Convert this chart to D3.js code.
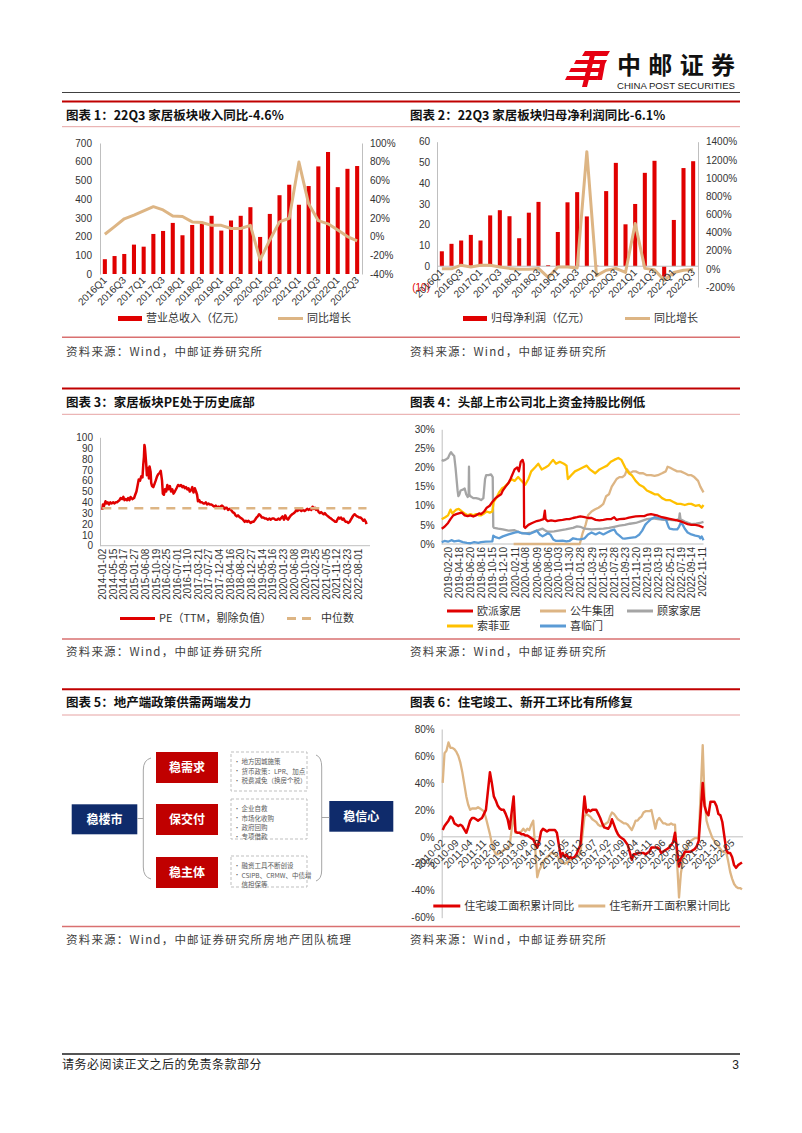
<!DOCTYPE html>
<html><head><meta charset="utf-8">
<script src="https://cdn.jsdelivr.net/npm/d3@7"></script>
<style>body{margin:0;background:#fff}svg{display:block}</style>
</head><body><svg id="page" width="802" height="1133"></svg>
<script>
// ---------------- DATA ----------------
const quarters = ["2016Q1","2016Q2","2016Q3","2016Q4","2017Q1","2017Q2","2017Q3","2017Q4","2018Q1","2018Q2","2018Q3","2018Q4","2019Q1","2019Q2","2019Q3","2019Q4","2020Q1","2020Q2","2020Q3","2020Q4","2021Q1","2021Q2","2021Q3","2021Q4","2022Q1","2022Q2","2022Q3"];
const quarterTicks = ["2016Q1","2016Q3","2017Q1","2017Q3","2018Q1","2018Q3","2019Q1","2019Q3","2020Q1","2020Q3","2021Q1","2021Q3","2022Q1","2022Q3"];
const revenue = [79,96,107,157,146,214,230,273,207,262,268,311,232,286,311,357,198,321,421,477,370,470,575,652,464,562,577];
const revenueYoY = [2.5,10.7,19,23,27.5,32,28.5,22,21.4,15.7,15,12,12,8.6,8.6,12,-25,-3.6,15.7,19.6,79.6,35,17,13.6,7,0,-4.6];
const revTicksL = [0,100,200,300,400,500,600,700];
const revTicksR = [-40,-20,0,20,40,60,80,100];

const netProfit = [7.2,10.8,12.4,15.1,12.4,24.5,27,24.1,13.5,25.8,31,0.5,16.5,30.8,35.7,24,0.3,36.2,49.8,20.2,30,45,50.8,-5,22.3,47.3,50.6];
const netProfitYoY = [0,0,40,20,40,40,20,5,-5,-5,5,-95,20,20,10,1290,-75,-15,5,-40,500,5,-10,-125,-40,-15,-6.1];
const npTicksL = [-10,0,10,20,30,40,50,60];
const npTicksR = [-200,0,200,400,600,800,1000,1200,1400];

const peSeries = [["2014-01-02",33],["2014-01-10",38],["2014-01-20",36],["2014-02-10",41],["2014-02-25",39],["2014-03-10",40],["2014-03-25",38],["2014-04-10",40],["2014-04-25",39],["2014-05-15",40],["2014-06-01",39],["2014-06-15",40],["2014-07-01",40],["2014-07-15",41],["2014-08-01",42],["2014-08-15",44],["2014-09-01",43],["2014-09-17",45],["2014-10-01",42],["2014-10-15",43],["2014-11-01",42],["2014-11-15",44],["2014-12-01",42],["2014-12-15",45],["2015-01-05",43],["2015-01-27",44],["2015-02-10",47],["2015-02-25",50],["2015-03-10",55],["2015-03-25",61],["2015-04-10",60],["2015-04-25",64],["2015-05-10",63],["2015-05-20",75],["2015-05-28",82],["2015-06-03",93],["2015-06-08",91],["2015-06-15",85],["2015-06-25",75],["2015-07-03",65],["2015-07-10",72],["2015-07-20",70],["2015-07-28",62],["2015-08-05",73],["2015-08-18",68],["2015-08-25",58],["2015-09-05",55],["2015-09-20",54],["2015-10-05",57],["2015-10-19",60],["2015-11-05",64],["2015-11-20",66],["2015-12-05",67],["2015-12-20",69],["2016-01-05",60],["2016-01-15",48],["2016-01-28",47],["2016-02-10",52],["2016-02-25",50],["2016-03-10",56],["2016-03-25",52],["2016-04-10",55],["2016-04-25",50],["2016-05-10",52],["2016-05-25",48],["2016-06-10",50],["2016-07-01",53],["2016-07-20",56],["2016-08-10",55],["2016-08-25",56],["2016-09-10",54],["2016-09-25",55],["2016-10-10",53],["2016-10-25",54],["2016-11-10",52],["2016-11-25",53],["2016-12-10",50],["2016-12-25",51],["2017-01-10",54],["2017-01-25",49],["2017-02-10",53],["2017-02-25",50],["2017-03-10",47],["2017-03-21",41],["2017-04-05",42],["2017-04-20",40],["2017-05-10",40],["2017-05-25",39],["2017-06-10",39],["2017-06-25",40],["2017-07-10",38],["2017-07-27",39],["2017-08-15",38],["2017-09-01",38],["2017-09-20",37],["2017-10-10",36],["2017-10-25",37],["2017-11-10",35],["2017-11-25",36],["2017-12-04",35],["2017-12-20",36],["2018-01-10",37],["2018-01-25",36],["2018-02-10",34],["2018-02-25",35],["2018-03-10",35],["2018-03-25",33],["2018-04-16",34],["2018-05-01",33],["2018-05-20",31],["2018-06-10",30],["2018-06-25",28],["2018-07-10",27],["2018-07-25",28],["2018-08-20",26],["2018-09-10",25],["2018-09-25",24],["2018-10-15",22],["2018-10-30",23],["2018-11-15",22],["2018-12-01",23],["2018-12-27",21],["2019-01-15",22],["2019-02-01",22],["2019-02-20",24],["2019-03-10",26],["2019-03-25",27],["2019-04-10",29],["2019-04-25",28],["2019-05-14",26],["2019-06-01",26],["2019-06-20",25],["2019-07-10",25],["2019-07-25",24],["2019-08-15",25],["2019-09-01",24],["2019-09-16",25],["2019-10-10",25],["2019-10-25",24],["2019-11-15",24],["2019-12-05",25],["2019-12-20",24],["2020-01-10",26],["2020-01-23",27],["2020-02-10",24],["2020-02-25",28],["2020-03-15",25],["2020-03-30",24],["2020-04-15",26],["2020-05-05",28],["2020-05-20",29],["2020-06-08",30],["2020-06-25",31],["2020-07-10",33],["2020-07-25",32],["2020-08-10",34],["2020-08-25",33],["2020-09-10",32],["2020-09-25",33],["2020-10-19",32],["2020-11-05",33],["2020-11-20",34],["2020-12-10",33],["2020-12-25",34],["2021-01-10",33],["2021-01-25",36],["2021-02-10",34],["2021-02-25",35],["2021-03-10",33],["2021-03-25",34],["2021-04-10",31],["2021-04-25",30],["2021-05-10",31],["2021-05-25",30],["2021-06-10",29],["2021-06-25",30],["2021-07-05",29],["2021-07-20",28],["2021-08-05",27],["2021-08-20",26],["2021-09-10",25],["2021-09-25",24],["2021-10-15",23],["2021-10-30",22],["2021-11-12",22],["2021-11-25",24],["2021-12-10",26],["2021-12-25",25],["2022-01-10",26],["2022-01-25",24],["2022-02-10",25],["2022-02-25",23],["2022-03-10",22],["2022-03-23",22],["2022-04-10",21],["2022-04-25",22],["2022-05-10",24],["2022-05-25",26],["2022-06-10",28],["2022-06-25",29],["2022-07-10",28],["2022-07-25",27],["2022-08-01",27],["2022-08-20",26],["2022-09-05",26],["2022-09-20",25],["2022-10-10",23],["2022-10-25",24],["2022-11-10",22],["2022-11-18",20]];
const peMedian = 34.5;
const peTicksY = [0,10,20,30,40,50,60,70,80,90,100];
const peTicksX = ["2014-01-02","2014-05-15","2014-09-17","2015-01-27","2015-06-08","2015-10-19","2016-02-25","2016-07-01","2016-11-10","2017-03-21","2017-07-27","2017-12-04","2018-04-16","2018-08-20","2018-12-27","2019-05-14","2019-09-16","2020-01-23","2020-06-08","2020-10-19","2021-02-25","2021-07-05","2021-11-12","2022-03-23","2022-08-01"];

const oppein = [["2019-01-17",4],["2019-02-01",4.5],["2019-02-20",5.5],["2019-03-05",6.5],["2019-03-20",7.5],["2019-04-05",7.8],["2019-04-18",8],["2019-05-05",8.2],["2019-05-20",7.5],["2019-06-05",7.3],["2019-06-20",7.5],["2019-07-05",7.2],["2019-07-20",7.5],["2019-08-05",8],["2019-08-16",7.8],["2019-09-01",8.5],["2019-09-15",9.5],["2019-10-01",10],["2019-10-15",11],["2019-11-01",12],["2019-11-15",12.5],["2019-12-01",13],["2019-12-10",14],["2019-12-25",15],["2020-01-10",16],["2020-01-20",17],["2020-02-11",19.5],["2020-02-25",20],["2020-03-05",19],["2020-03-15",21.5],["2020-03-25",22],["2020-03-31",21],["2020-04-02",4.5],["2020-04-08",4.2],["2020-04-25",5],["2020-05-15",5.5],["2020-06-09",6],["2020-06-25",6.2],["2020-07-15",6.5],["2020-07-22",8.7],["2020-07-26",6.5],["2020-08-06",6],["2020-08-25",6.2],["2020-09-15",6],["2020-10-03",6.2],["2020-10-25",6.3],["2020-11-15",6.5],["2020-11-30",6.5],["2020-12-20",6.8],["2021-01-10",7],["2021-01-28",7.2],["2021-02-20",7],["2021-03-10",6.8],["2021-03-29",6.8],["2021-04-20",6.3],["2021-05-10",6.2],["2021-05-31",6.3],["2021-06-20",6.5],["2021-07-10",6.5],["2021-07-28",7],["2021-08-10",6.3],["2021-08-25",6.5],["2021-09-23",6.6],["2021-10-15",6.9],["2021-11-05",7.1],["2021-11-20",7.2],["2021-12-15",7.3],["2022-01-05",7.3],["2022-01-19",7.6],["2022-02-10",7.8],["2022-03-01",7.6],["2022-03-19",7.4],["2022-04-10",7],["2022-04-30",6.8],["2022-05-21",6.6],["2022-06-10",6.4],["2022-06-30",6.2],["2022-07-19",5.9],["2022-08-10",5.5],["2022-08-25",5.2],["2022-09-14",5],["2022-10-05",5],["2022-10-25",4.8],["2022-11-18",4.3]];
const gongniu = [["2020-02-06",0],["2021-01-25",0],["2021-02-10",3],["2021-02-25",5],["2021-03-10",7.5],["2021-03-29",8.5],["2021-04-15",9],["2021-05-05",9.5],["2021-05-20",10],["2021-05-31",10.5],["2021-06-15",12.5],["2021-06-30",13],["2021-07-15",15],["2021-07-28",16],["2021-08-10",17],["2021-08-25",17.5],["2021-09-10",17.5],["2021-09-23",18],["2021-10-05",19.5],["2021-10-20",18.5],["2021-11-05",19],["2021-11-20",19],["2021-12-10",18.5],["2021-12-30",18.5],["2022-01-19",18],["2022-02-10",18],["2022-03-01",17.8],["2022-03-19",18],["2022-04-10",18.5],["2022-04-30",19],["2022-05-10",20.2],["2022-05-21",20],["2022-06-10",19.5],["2022-06-30",19],["2022-07-19",19],["2022-08-10",18.5],["2022-08-30",18],["2022-09-14",18],["2022-09-30",17.5],["2022-10-20",16.5],["2022-11-01",15],["2022-11-18",13.5]];
const kuka = [["2019-01-17",22],["2019-01-25",21.8],["2019-02-05",22],["2019-02-20",22.5],["2019-03-01",23.5],["2019-03-08",24],["2019-03-15",23.5],["2019-03-25",23],["2019-04-01",20],["2019-04-12",14],["2019-04-16",12.5],["2019-04-22",13],["2019-04-28",14],["2019-05-10",14.2],["2019-05-20",14.5],["2019-05-28",13],["2019-06-05",12.3],["2019-06-10",12.5],["2019-06-12",20.2],["2019-06-14",13],["2019-06-20",12.5],["2019-07-05",12],["2019-07-20",12],["2019-08-05",11.8],["2019-08-16",11.5],["2019-08-28",12],["2019-09-06",17],["2019-09-12",18],["2019-09-25",18],["2019-10-08",18.2],["2019-10-17",17.5],["2019-10-20",4.5],["2019-10-25",4.2],["2019-11-15",4],["2019-12-10",3.8],["2020-01-10",3.5],["2020-02-11",3.6],["2020-03-10",3],["2020-04-08",2.8],["2020-05-10",3],["2020-06-09",3.5],["2020-07-10",4],["2020-07-25",3.5],["2020-08-06",3.2],["2020-09-10",3.3],["2020-10-03",3.5],["2020-11-10",3.8],["2020-11-30",4],["2020-12-20",4.2],["2021-01-10",4.6],["2021-01-28",4.5],["2021-02-20",4],["2021-03-29",3.8],["2021-04-20",3.9],["2021-05-31",4],["2021-06-30",4.2],["2021-07-28",4.5],["2021-08-25",4.8],["2021-09-23",5],["2021-10-20",5.3],["2021-11-20",5.5],["2021-12-20",6],["2022-01-19",6.5],["2022-02-20",6.7],["2022-03-19",6.5],["2022-04-20",6.3],["2022-05-21",6.3],["2022-06-20",6.2],["2022-07-10",6.5],["2022-07-14",8],["2022-07-18",6.5],["2022-08-10",5.9],["2022-09-14",5.2],["2022-10-10",5.3],["2022-10-30",5.5],["2022-11-18",5.8]];
const sofia = [["2019-01-17",6.5],["2019-02-05",7],["2019-02-20",7.5],["2019-03-05",9],["2019-03-15",8],["2019-03-25",8.5],["2019-04-05",9],["2019-04-18",9.2],["2019-05-05",8.5],["2019-05-20",8],["2019-06-05",7.5],["2019-06-20",7.8],["2019-07-05",7.5],["2019-07-20",7.8],["2019-08-05",7.5],["2019-08-16",7.5],["2019-09-01",8],["2019-09-15",8.5],["2019-10-01",8.2],["2019-10-15",8.5],["2019-10-22",11],["2019-11-05",12],["2019-11-20",13.5],["2019-12-05",14.5],["2019-12-20",15],["2020-01-10",16],["2020-01-25",17],["2020-02-11",16.5],["2020-03-01",17.5],["2020-03-20",16.5],["2020-04-08",15.5],["2020-04-25",17],["2020-05-10",19],["2020-05-30",20],["2020-06-17",21],["2020-07-05",19.5],["2020-07-25",20],["2020-08-10",20.5],["2020-09-04",22],["2020-09-20",21],["2020-10-10",21.5],["2020-11-01",21],["2020-11-15",20.5],["2020-11-22",17],["2020-12-10",18],["2020-12-30",19],["2021-01-20",19.5],["2021-02-10",20],["2021-03-03",20.5],["2021-03-20",19.5],["2021-04-17",18.5],["2021-05-10",19.5],["2021-05-31",20],["2021-06-20",20.5],["2021-07-10",21.5],["2021-07-28",22],["2021-08-19",22.5],["2021-09-05",22],["2021-09-25",20],["2021-10-15",18.5],["2021-10-30",18],["2021-11-20",16.5],["2021-12-10",15.5],["2021-12-30",15],["2022-01-19",14],["2022-02-10",13.5],["2022-03-01",13],["2022-03-19",13],["2022-04-10",12],["2022-04-30",11.5],["2022-05-21",11.5],["2022-06-10",11],["2022-06-30",10.5],["2022-07-19",10.5],["2022-08-10",10.2],["2022-08-30",10.5],["2022-09-14",10.5],["2022-10-05",10],["2022-10-25",10.2],["2022-11-08",9.5],["2022-11-18",10.2]];
const xilinmen = [["2019-01-17",0.5],["2019-02-01",0.8],["2019-02-20",0.6],["2019-03-10",1],["2019-03-25",0.7],["2019-04-18",0.9],["2019-05-10",0.5],["2019-06-01",0.3],["2019-06-20",0.2],["2019-07-10",0.5],["2019-08-01",0.3],["2019-08-16",0.5],["2019-09-10",0.6],["2019-10-15",0.7],["2019-10-20",2.2],["2019-11-01",1.8],["2019-11-20",1.5],["2019-12-10",2],["2020-01-10",2.5],["2020-02-11",3],["2020-03-01",3.2],["2020-03-20",2.8],["2020-04-08",2.8],["2020-05-01",2.6],["2020-05-20",3],["2020-06-09",3.5],["2020-06-25",2.5],["2020-07-10",2],["2020-07-25",2.4],["2020-08-06",2.8],["2020-08-20",2.5],["2020-09-05",1.2],["2020-09-20",0.8],["2020-10-03",0.8],["2020-10-25",0.9],["2020-11-15",0.7],["2020-11-30",0.8],["2020-12-20",1.5],["2021-01-10",1.3],["2021-01-28",1.2],["2021-02-20",1.5],["2021-03-10",2.5],["2021-03-29",3],["2021-04-20",2.5],["2021-05-10",3],["2021-05-31",2.5],["2021-06-20",3],["2021-07-10",3.5],["2021-07-28",3.8],["2021-08-10",2.8],["2021-08-25",2.2],["2021-09-10",1.5],["2021-09-23",1.4],["2021-10-20",1.6],["2021-11-20",1.8],["2021-12-10",2.5],["2021-12-25",3.5],["2022-01-10",5],["2022-01-19",5.5],["2022-02-10",6.5],["2022-03-01",7],["2022-03-19",6.8],["2022-04-10",6.5],["2022-04-30",6.5],["2022-05-15",4.5],["2022-05-21",4],["2022-06-10",3.8],["2022-06-30",3.8],["2022-07-10",4.5],["2022-07-19",5.5],["2022-07-30",5],["2022-08-10",4],["2022-08-25",3],["2022-09-14",2.5],["2022-10-05",2.2],["2022-10-25",2],["2022-11-01",1.5],["2022-11-08",2],["2022-11-18",1]];
const holdTicksY = [0,5,10,15,20,25,30];
const holdTicksX = ["2019-02-20","2019-04-18","2019-06-20","2019-08-16","2019-10-15","2019-12-10","2020-02-11","2020-04-08","2020-06-09","2020-08-06","2020-10-03","2020-11-30","2021-01-28","2021-03-29","2021-05-31","2021-07-28","2021-09-23","2021-11-20","2022-01-19","2022-03-19","2022-05-21","2022-07-19","2022-09-14","2022-11-11"];

// Chart 6: monthly (Jan merged into Feb), Feb..Dec each year, 2022 to Oct
const completionYoY = [
  5,8,10,12,15,14,10,9,8,9,8,          // 2010
  3,7,12,14,14,13,12,13,14,17,20,      // 2011
  48,40,30,27,23,21,20,20,17,13,6,     // 2012
  30,4,3,3,2,2,1,1,0,-1,-2,            // 2013
  -8,-4,4,6,5,4,5,5,5,5,3,             // 2014
  -15,-12,-15,-13,-16,-15,-16,-15,-13,-9,-6, // 2015
  30,18,20,19,20,20,20,17,14,10,7,     // 2016
  6,8,13,9,5,2,0,-1,-2,-4,-6,          // 2017
  -17,-13,-13,-12,-12,-12,-12,-13,-12,-11,-8, // 2018
  -8,-8,-9,-12,-11,-10,-9,-8,-6,-4,3,  // 2019
  -22,-16,-14,-11,-11,-11,-11,-10,-9,-7,-3, // 2020
  40,23,18,16,26,26,26,23,17,16,11,    // 2021
  -10,-12,-12,-15,-21,-23,-21,-20,-19  // 2022
];
const newStartYoY = [
  40,62,64,70,66,66,65,63,60,55,48,    // 2010
  30,24,20,21,21,21,22,21,20,19,14,    // 2011
  2,-5,-10,-13,-13,-12,-11,-10,-9,-8,-7, // 2012
  18,3,3,3,4,6,4,6,5,9,12,             // 2013
  -30,-25,-22,-18,-17,-15,-14,-12,-12,-13,-14, // 2014
  -18,-19,-20,-19,-18,-17,-16,-15,-15,-14,-12, // 2015
  15,17,16,15,13,12,11,9,8,8,9,        // 2016
  11,15,18,17,15,13,12,11,10,10,9,     // 2017
  5,8,12,12,14,15,18,19,19,19,20,      // 2018
  6,12,14,12,10,10,9,9,10,9,9,         // 2019
  -45,-27,-18,-12,-7,-5,-3,-2,-1,-1,-1, // 2020
  68,28,12,7,3,-1,-3,-5,-7,-9,-11,     // 2021
  -12,-18,-26,-31,-35,-37,-38,-38,-39  // 2022
];
const houseTicksY = [-60,-40,-20,0,20,40,60,80];
const houseTicksX = ["2010-02","2010-09","2011-04","2011-11","2012-06","2013-01","2013-08","2014-03","2014-10","2015-05","2015-12","2016-07","2017-02","2017-09","2018-04","2018-11","2019-06","2020-01","2020-08","2021-03","2021-10","2022-05"];

// Diagram (chart 5)
const diagLeft = "稳楼市", diagRight = "稳信心";
const diagLabels = ["稳需求","保交付","稳主体"];
const diagNotes = [
  [["•","地方因城施策"],["•","货币政策：LPR、加点"],["•","税费减免（换房个税）"]],
  [["•","企业自救"],["•","市场化收购"],["•","政府回购"],["•","专项借款"]],
  [["•","融资工具不断创设"],["•","CSIPB、CRMW、中债增"],["","信担保等"]]
];

const titles = ["图表 1：22Q3 家居板块收入同比-4.6%","图表 2：22Q3 家居板块归母净利润同比-6.1%","图表 3：家居板块PE处于历史底部","图表 4：头部上市公司北上资金持股比例低","图表 5：地产端政策供需两端发力","图表 6：住宅竣工、新开工环比有所修复"];
const sources = ["资料来源：Wind，中邮证券研究所","资料来源：Wind，中邮证券研究所","资料来源：Wind，中邮证券研究所","资料来源：Wind，中邮证券研究所","资料来源：Wind，中邮证券研究所房地产团队梳理","资料来源：Wind，中邮证券研究所"];

// ---------------- DRAW ----------------
const CJK = '"Noto Sans CJK SC","Noto Sans",sans-serif';
const LAT = '"Liberation Sans",Arial,"Noto Sans CJK SC",sans-serif';
const RED = "#E00000", TAN = "#DDB584", AXC = "#BFBFBF", TXT = "#333";
const parse = d3.timeParse("%Y-%m-%d");
const parseM = d3.timeParse("%Y-%m");
const svg = d3.select("#page");
svg.append("rect").attr("width",802).attr("height",1133).attr("fill","#fff");

// Header logo
const logo = svg.append("g").attr("fill","#E60012");
logo.append("path").attr("d","M585,51h25l-3,5h-25z");
logo.append("path").attr("d","M576,60h31l-2,4h-31z");
logo.append("path").attr("d","M571,68h32l-2,4h-32z");
logo.append("path").attr("d","M567,76h32l-2,4h-32z");
logo.append("path").attr("d","M591,51h5l-9,36h-5z");
logo.append("path").attr("d","M600,64h5l-3,16h-5z");
svg.append("text").attr("x",617).attr("y",74).text("中邮证券").attr("font-family",CJK).attr("font-weight",700).attr("font-size",24).attr("textLength",118).attr("fill","#111");
svg.append("text").attr("x",617).attr("y",88.5).text("CHINA POST SECURITIES").attr("font-family",LAT).attr("font-size",9.5).attr("textLength",118).attr("lengthAdjust","spacingAndGlyphs").attr("fill","#222");
svg.append("line").attr("x1",62).attr("x2",740).attr("y1",92.5).attr("y2",92.5).attr("stroke","#404040").attr("stroke-width",1);

// Section frames
const sections = [{top:101.5,thin:126.7,bottom:337.3,title:120,src:356},
                  {top:388.5,thin:414.3,bottom:639,title:406.5,src:656},
                  {top:689.3,thin:715,bottom:926.5,title:707,src:943.5}];
sections.forEach((s,i)=>{
  svg.append("line").attr("x1",62).attr("x2",740).attr("y1",s.top).attr("y2",s.top).attr("stroke","#C00000").attr("stroke-width",2);
  svg.append("line").attr("x1",62).attr("x2",740).attr("y1",s.thin).attr("y2",s.thin).attr("stroke","#E6A3A3").attr("stroke-width",1);
  svg.append("line").attr("x1",62).attr("x2",740).attr("y1",s.bottom).attr("y2",s.bottom).attr("stroke","#D97070").attr("stroke-width",1.5);
  [66,410].forEach((x,j)=>{
    svg.append("text").attr("x",x).attr("y",s.title).text(titles[i*2+j]).attr("font-family",CJK).attr("font-weight",700).attr("font-size",12.5).attr("fill","#111");
    svg.append("text").attr("x",x).attr("y",s.src).text(sources[i*2+j]).attr("font-family",CJK).attr("font-size",11.5).attr("letter-spacing",1.2).attr("fill","#404040");
  });
});

// Footer
svg.append("line").attr("x1",62).attr("x2",740).attr("y1",1054).attr("y2",1054).attr("stroke","#555").attr("stroke-width",2);
svg.append("text").attr("x",62).attr("y",1069).text("请务必阅读正文之后的免责条款部分").attr("font-family",CJK).attr("font-size",12).attr("letter-spacing",0.5).attr("fill","#222");
svg.append("text").attr("x",739).attr("y",1069).attr("text-anchor","end").text("3").attr("font-family",LAT).attr("font-size",12).attr("fill","#222");

// helpers
function styleAxis(a, lineColor){
  a.attr("font-family",LAT).attr("font-size",10);
  a.select(".domain").attr("stroke", lineColor || "none");
  a.selectAll(".tick line").attr("stroke",AXC);
  a.selectAll("text").attr("fill",TXT);
  return a;
}
function legend(g, x, y, type, color, label, w){
  w = w || 25;
  if (type==="bar") g.append("rect").attr("x",x).attr("y",y-2.5).attr("width",w).attr("height",5).attr("fill",color);
  else g.append("line").attr("x1",x).attr("x2",x+w).attr("y1",y).attr("y2",y).attr("stroke",color).attr("stroke-width",3)
        .attr("stroke-dasharray", type==="dash" ? "9,6" : null);
  g.append("text").attr("x",x+w+4).attr("y",y).attr("dy","0.36em").text(label).attr("font-family",CJK).attr("font-size",11).attr("fill",TXT);
}

// Chart 1
(function(){
  const g = svg.append("g");
  const x = d3.scaleBand().domain(quarters).range([100,362]).paddingInner(0.58).paddingOuter(0.29);
  const yL = d3.scaleLinear().domain([0,700]).range([274,143]);
  const yR = d3.scaleLinear().domain([-40,100]).range([274,143]);
  styleAxis(g.append("g").attr("transform","translate(100,0)").call(d3.axisLeft(yL).tickValues(revTicksL).tickSize(0).tickSizeOuter(0).tickPadding(8)), AXC);
  styleAxis(g.append("g").attr("transform","translate(362,0)").call(d3.axisRight(yR).tickValues(revTicksR).tickFormat(d=>d+"%").tickSize(0).tickSizeOuter(0).tickPadding(8)), AXC);
  g.selectAll("rect.bar").data(revenue).join("rect").attr("class","bar")
    .attr("x",(d,i)=>x(quarters[i])).attr("width",x.bandwidth())
    .attr("y",d=>yL(Math.max(0,d))).attr("height",d=>Math.abs(yL(d)-yL(0))).attr("fill",RED);
  g.append("path").datum(revenueYoY).attr("fill","none").attr("stroke",TAN).attr("stroke-width",3).attr("stroke-linejoin","round")
    .attr("d",d3.line().x((d,i)=>x(quarters[i])+x.bandwidth()/2).y(d=>yR(d)));
  const xa = styleAxis(g.append("g").attr("transform","translate(0,274)").call(d3.axisBottom(x).tickValues(quarterTicks).tickSize(0).tickSizeOuter(0)));
  xa.selectAll("text").attr("x",-3).attr("y",3).attr("dy","0.35em").attr("text-anchor","end").attr("transform","rotate(-45)");
  legend(g,118,318.5,"bar",RED,"营业总收入（亿元）",24);
  legend(g,278,318.5,"line",TAN,"同比增长",25);
})();

// Chart 2
(function(){
  const g = svg.append("g");
  const x = d3.scaleBand().domain(quarters).range([437,698]).paddingInner(0.58).paddingOuter(0.29);
  const yL = d3.scaleLinear().domain([-10,60]).range([287,141.7]);
  const yR = d3.scaleLinear().domain([-200,1400]).range([287,141.7]);
  const la = styleAxis(g.append("g").attr("transform","translate(437,0)").call(d3.axisLeft(yL).tickValues(npTicksL).tickFormat(d=>d<0?"("+(-d)+")":d).tickSize(0).tickSizeOuter(0).tickPadding(7)), AXC);
  la.selectAll("text").attr("fill",d=>d<0?"#E00000":TXT);
  styleAxis(g.append("g").attr("transform","translate(698,0)").call(d3.axisRight(yR).tickValues(npTicksR).tickFormat(d=>d+"%").tickSize(0).tickSizeOuter(0).tickPadding(8)), AXC);
  g.selectAll("rect.bar").data(netProfit).join("rect").attr("class","bar")
    .attr("x",(d,i)=>x(quarters[i])).attr("width",x.bandwidth())
    .attr("y",d=>yL(Math.max(0,d))).attr("height",d=>Math.abs(yL(d)-yL(0))).attr("fill",RED);
  g.append("line").attr("x1",437).attr("x2",698).attr("y1",yL(0)).attr("y2",yL(0)).attr("stroke",AXC);
  g.append("path").datum(netProfitYoY).attr("fill","none").attr("stroke",TAN).attr("stroke-width",3).attr("stroke-linejoin","round")
    .attr("d",d3.line().x((d,i)=>x(quarters[i])+x.bandwidth()/2).y(d=>yR(d)));
  const xa = styleAxis(g.append("g").attr("transform",`translate(0,${yL(0)})`).call(d3.axisBottom(x).tickValues(quarterTicks).tickSize(0).tickSizeOuter(0)));
  xa.selectAll("text").attr("x",-3).attr("y",3).attr("dy","0.35em").attr("text-anchor","end").attr("transform","rotate(-45)");
  legend(g,463,318.5,"bar",RED,"归母净利润（亿元）",24);
  legend(g,625,318.5,"line",TAN,"同比增长",25);
})();

// Chart 3
(function(){
  const g = svg.append("g");
  const data = peSeries.map(d=>[parse(d[0]),d[1]]);
  const x = d3.scaleTime().domain([parse("2014-01-02"),parse("2022-11-18")]).range([102.3,366.5]);
  const y = d3.scaleLinear().domain([0,100]).range([545.7,437.3]);
  styleAxis(g.append("g").attr("transform","translate(100,0)").call(d3.axisLeft(y).tickValues(peTicksY).tickSize(0).tickSizeOuter(0).tickPadding(7)), AXC);
  const xa = styleAxis(g.append("g").attr("transform","translate(0,545.7)").call(d3.axisBottom(x).tickValues(peTicksX.map(parse)).tickFormat(d3.timeFormat("%Y-%m-%d")).tickSize(0).tickSizeOuter(0)));
  xa.select(".domain").remove();
  g.append("line").attr("x1",100).attr("x2",370).attr("y1",545.7).attr("y2",545.7).attr("stroke",AXC);
  xa.selectAll("text").attr("x",-3).attr("y",0).attr("dy","0.35em").attr("text-anchor","end").attr("transform","rotate(-90)");
  g.append("path").datum(data).attr("fill","none").attr("stroke",RED).attr("stroke-width",2.5).attr("stroke-linejoin","round")
    .attr("d",d3.line().x(d=>x(d[0])).y(d=>y(d[1])));
  g.append("line").attr("x1",x(data[0][0])).attr("x2",x(data[data.length-1][0])).attr("y1",y(peMedian)).attr("y2",y(peMedian))
    .attr("stroke",TAN).attr("stroke-width",2.5).attr("stroke-dasharray","9,7");
  legend(g,120,618.5,"line",RED,"PE（TTM，剔除负值）",35);
  legend(g,287,618.5,"dash",TAN,"中位数",30);
})();

// Chart 4
(function(){
  const g = svg.append("g");
  const x = d3.scaleTime().domain([parse("2019-01-17"),parse("2022-11-18")]).range([441.7,703.5]);
  const y = d3.scaleLinear().domain([0,30]).range([544,429.3]);
  styleAxis(g.append("g").attr("transform","translate(441.7,0)").call(d3.axisLeft(y).tickValues(holdTicksY).tickFormat(d=>d+"%").tickSize(0).tickSizeOuter(0).tickPadding(7)), AXC);
  const xa = styleAxis(g.append("g").attr("transform","translate(0,544)").call(d3.axisBottom(x).tickValues(holdTicksX.map(parse)).tickFormat(d3.timeFormat("%Y-%m-%d")).tickSize(0).tickSizeOuter(0)));
  xa.select(".domain").remove();
  g.append("line").attr("x1",441.7).attr("x2",703.5).attr("y1",544).attr("y2",544).attr("stroke",AXC);
  xa.selectAll("text").attr("x",-3).attr("y",0).attr("dy","0.35em").attr("text-anchor","end").attr("transform","rotate(-90)");
  const line = d3.line().x(d=>x(parse(d[0]))).y(d=>y(d[1]));
  const series = [[gongniu,TAN],[kuka,"#A5A5A5"],[xilinmen,"#5B9BD5"],[sofia,"#FFC000"],[oppein,RED]];
  series.forEach(([s,c])=>g.append("path").datum(s).attr("fill","none").attr("stroke",c).attr("stroke-width",2.3).attr("stroke-linejoin","round").attr("d",line));
  legend(g,447,611,"line",RED,"欧派家居",26);
  legend(g,540,611,"line",TAN,"公牛集团",26);
  legend(g,627,611,"line","#A5A5A5","顾家家居",26);
  legend(g,447,626,"line","#FFC000","索菲亚",26);
  legend(g,540,626,"line","#5B9BD5","喜临门",26);
})();

// Chart 5 (diagram)
(function(){
  const g = svg.append("g");
  const NAVY = "#0F2B6B", BOXRED = "#C00000";
  const boxText = (x,y,w,h,t)=>g.append("text").attr("x",x+w/2).attr("y",y+h/2).attr("dy","0.36em").attr("text-anchor","middle").text(t)
      .attr("font-family",CJK).attr("font-weight",700).attr("font-size",12).attr("fill","#fff");
  g.append("rect").attr("x",71.7).attr("y",804.3).attr("width",65.6).attr("height",30).attr("fill",NAVY);
  boxText(71.7,804.3,65.6,30,diagLeft);
  g.append("rect").attr("x",329.3).attr("y",801).attr("width",64).attr("height",30.7).attr("fill",NAVY);
  boxText(329.3,801,64,30.7,diagRight);
  g.append("line").attr("x1",137.3).attr("x2",143.3).attr("y1",818.5).attr("y2",818.5).attr("stroke","#A6A6A6");
  g.append("line").attr("x1",321.7).attr("x2",329.3).attr("y1",817.5).attr("y2",817.5).attr("stroke","#A6A6A6");
  g.append("path").attr("d","M151,758 Q143.3,760 143.3,770 V867 Q143.3,877 151,879").attr("fill","none").attr("stroke","#A6A6A6");
  g.append("path").attr("d","M316,755 Q321.7,757 321.7,767 V870 Q321.7,879 316,881").attr("fill","none").attr("stroke","#A6A6A6");
  const redY = [752,804,857];
  const noteBox = [[752,39],[799,40],[856,31]];
  diagLabels.forEach((t,i)=>{
    g.append("rect").attr("x",156).attr("y",redY[i]).attr("width",62).attr("height",31).attr("fill",BOXRED);
    boxText(156,redY[i],62,31,t);
    g.append("rect").attr("x",231).attr("y",noteBox[i][0]).attr("width",76).attr("height",noteBox[i][1])
      .attr("fill","none").attr("stroke","#BFBFBF").attr("stroke-dasharray","3,2");
    diagNotes[i].forEach((n,k)=>{
      const yy = noteBox[i][0] + 10 + k*9.3;
      g.append("text").attr("x",234).attr("y",yy).attr("dy","0.35em").text(n[0]).attr("font-size",6).attr("fill","#595959").attr("font-family",CJK);
      g.append("text").attr("x",241.5).attr("y",yy).attr("dy","0.35em").text(n[1]).attr("font-size",6.5).attr("fill","#595959").attr("font-family",CJK);
    });
  });
})();

// Chart 6
(function(){
  const g = svg.append("g");
  const months = [];
  for (let yr=2010; yr<=2022; yr++) for (let m=2; m<=12; m++) { if (yr===2022 && m>10) break; months.push(new Date(yr, m-1, 1)); }
  const x = d3.scaleTime().domain([new Date(2010,1,1), new Date(2022,9,1)]).range([442.7,742]);
  const y = d3.scaleLinear().domain([-60,80]).range([917.7,729]);
  styleAxis(g.append("g").attr("transform","translate(441.7,0)").call(d3.axisLeft(y).tickValues(houseTicksY).tickFormat(d=>d+"%").tickSize(0).tickSizeOuter(0).tickPadding(7)), AXC);
  g.append("line").attr("x1",441.7).attr("x2",743).attr("y1",y(0)).attr("y2",y(0)).attr("stroke",AXC);
  const line = d3.line().x((d,i)=>x(months[i])).y(d=>y(d));
  g.append("path").datum(newStartYoY).attr("fill","none").attr("stroke",TAN).attr("stroke-width",2.3).attr("stroke-linejoin","round").attr("d",line);
  g.append("path").datum(completionYoY).attr("fill","none").attr("stroke",RED).attr("stroke-width",2.5).attr("stroke-linejoin","round").attr("d",line);
  const xa = styleAxis(g.append("g").attr("transform",`translate(0,${y(0)})`).call(d3.axisBottom(x).tickValues(houseTicksX.map(parseM)).tickFormat(d3.timeFormat("%Y-%m")).tickSize(0).tickSizeOuter(0)));
  xa.select(".domain").remove();
  xa.selectAll("text").attr("x",-3).attr("y",3).attr("dy","0.35em").attr("text-anchor","end").attr("transform","rotate(-45)");
  legend(g,433.3,906,"line",RED,"住宅竣工面积累计同比",27);
  legend(g,578.3,906,"line",TAN,"住宅新开工面积累计同比",27);
})();
</script>
</body></html>
